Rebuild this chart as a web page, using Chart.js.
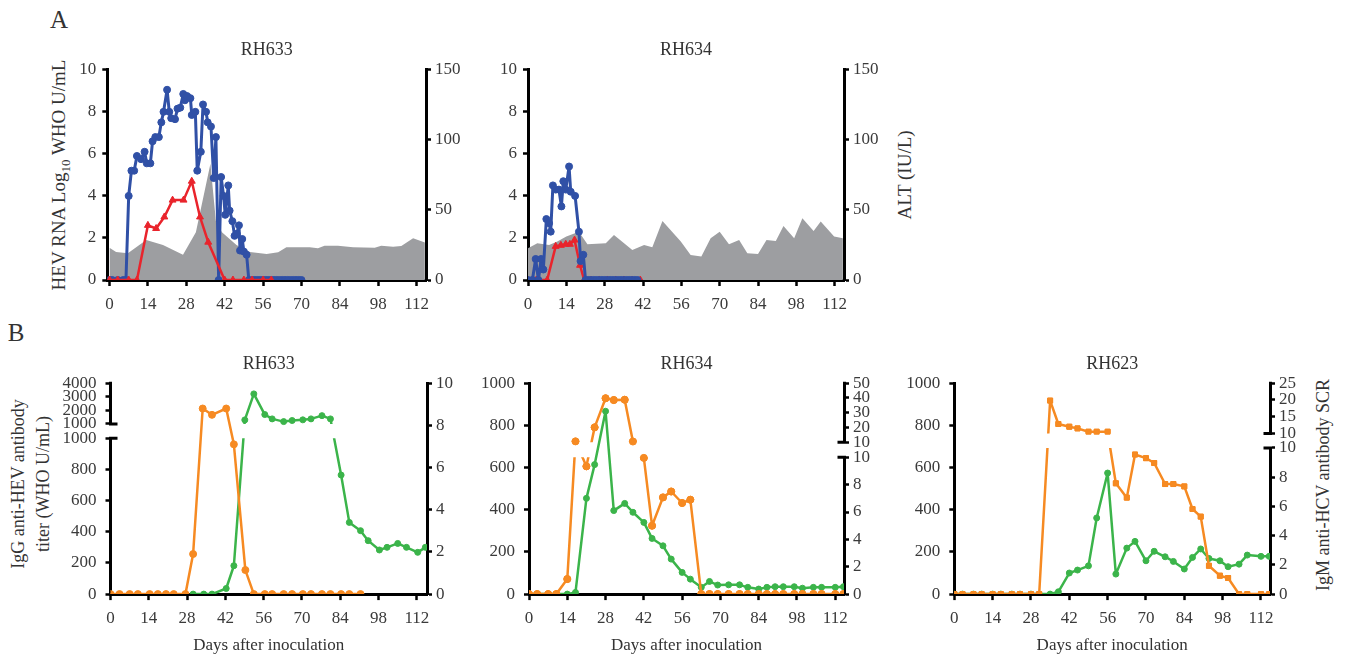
<!DOCTYPE html>
<html>
<head>
<meta charset="utf-8">
<script src="https://cdn.jsdelivr.net/npm/chart.js@4.4.1/dist/chart.umd.min.js"></script>
<style>
  body { margin: 0; width: 1345px; height: 658px; background: #fff; position: relative; overflow: hidden;
         font-family: "Liberation Serif", "DejaVu Serif", serif; color: #333; }
  canvas { position: absolute; }
  .lbl { position: absolute; transform: translate(-50%, -50%); white-space: nowrap; }
  .vt { position: absolute; transform: translate(-50%, -50%) rotate(-90deg); white-space: nowrap; text-align: center; }
</style>
</head>
<body>
<div class="lbl" style="left:59px;top:20px;font-size:25px">A</div>
<div class="lbl" style="left:16px;top:333px;font-size:25px">B</div>
<div class="vt" style="left:61px;top:175px;font-size:19px">HEV RNA Log<sub style="font-size:13px">10</sub> WHO U/mL</div>
<div class="vt" style="left:905px;top:175px;font-size:19px">ALT (IU/L)</div>
<div class="vt" style="left:31px;top:484px;font-size:18px;line-height:25px">IgG anti-HEV antibody<br>titer (WHO U/mL)</div>
<div class="vt" style="left:1323px;top:485px;font-size:18px">IgM anti-HCV antibody SCR</div>

<canvas id="a633"></canvas>
<canvas id="a634"></canvas>
<canvas id="b633"></canvas>
<canvas id="b634"></canvas>
<canvas id="b623"></canvas>

<script>
// ---------- ticks ----------
const dayTicks = [0, 14, 28, 42, 56, 70, 84, 98, 112];
const rnaTicks = [0, 2, 4, 6, 8, 10];
const altTicks = [0, 50, 100, 150];
const iggTicks = [0, 200, 400, 600, 800, 1000];
const iggHighTicks = [1000, 2000, 3000, 4000];
const igmTicks = [0, 2, 4, 6, 8, 10];
const igm634HighTicks = [10, 20, 30, 40, 50];
const igm623HighTicks = [10, 15, 20, 25];

// ---------- A: RH633 ----------
const rh633SerumDays = [0, 1, 3, 5, 6, 7, 8, 9, 10, 11.5, 12.8, 13.6, 14.9, 15.7, 16.7, 18, 18.9, 19.7, 21, 21.8,
  22.5, 23.9, 24.8, 25.8, 26.9, 27.5, 28.3, 29.5, 30, 31.3, 32, 33.3, 34.1, 35.2, 35.8, 37, 38, 38.8, 39.8, 40.7,
  41.6, 42.2, 43.3, 43.8, 44.8, 45.6, 46.4, 47.2, 47.6, 48.4, 49, 50, 50.8, 52, 53, 54, 55, 56, 57, 58, 59, 60,
  61, 62, 63, 64, 65, 66, 67, 68, 69, 70];
const rh633Serum = [0, 0, 0, 0, 0, 4.0, 5.2, 5.2, 5.9, 5.75, 6.1, 5.55, 5.55, 6.6, 6.8, 6.8, 7.5, 8.0, 9.05, 8.0,
  7.7, 7.65, 8.15, 8.2, 8.85, 8.55, 8.75, 8.65, 7.85, 8.0, 5.2, 6.1, 8.35, 8.0, 7.5, 7.3, 4.85, 6.8, 0, 4.9,
  4.0, 3.1, 4.5, 3.3, 2.8, 2.1, 2.2, 2.6, 1.4, 1.95, 1.35, 1.2, 0, 0, 0, 0, 0, 0, 0, 0, 0, 0,
  0, 0, 0, 0, 0, 0, 0, 0, 0, 0];
const rh633FecesDays = [0, 3, 7, 10, 14, 17, 20, 23, 27, 30, 33, 36, 42, 45, 49, 52, 56, 59];
const rh633Feces = [0, 0, 0, 0, 2.6, 2.45, 3.0, 3.8, 3.8, 4.7, 3.0, 1.8, 0, 0, 0, 0, 0, 0];
const rh633AltDays = [0, 2.4, 6.7, 13.4, 19.5, 26.8, 31.5, 36.8, 38.8, 41, 46.3, 51.2, 57.3, 61.5, 64.5, 73, 76,
  78.4, 83.3, 88.8, 96.7, 99.1, 103.4, 106.4, 110.7, 115];
const rh633Alt = [23, 20, 19, 28.5, 25, 18, 34, 83, 42, 34, 25, 20, 18.6, 19.8, 23.3, 23.3, 22.6,
  24.5, 24.5, 23.3, 23, 24.5, 23.8, 24.3, 29.8, 26.7];

// ---------- A: RH634 ----------
const rh634SerumDays = [0, 1.6, 2.8, 3.8, 4.8, 5.6, 6.7, 7.7, 8.3, 9.1, 10.1, 11.3, 12.2, 12.9, 13.8, 15, 15.6,
  17.2, 18.6, 19.2, 20.2, 21, 22, 23, 24, 25, 26, 27, 28, 29, 30, 31, 32, 33, 34, 35, 36, 37, 38, 39, 40];
const rh634Serum = [0, 0, 1.0, 0, 1.0, 0.5, 2.9, 2.7, 2.3, 4.5, 4.3, 4.3, 3.5, 4.7, 4.3, 5.4, 4.2,
  4.0, 2.3, 0.9, 1.2, 0, 0, 0, 0, 0, 0, 0, 0, 0, 0, 0, 0, 0, 0, 0, 0, 0, 0, 0, 0];
const rh634FecesDays = [0, 3, 7, 10.1, 12, 13.8, 15.3, 17, 19, 20.5, 23, 26, 29, 32, 35, 38, 41];
const rh634Feces = [0, 0, 0, 1.6, 1.65, 1.7, 1.7, 1.9, 0.7, 0, 0, 0, 0, 0, 0, 0, 0];
const rh634AltDays = [0, 3.4, 7.7, 10.7, 14, 18.6, 21.7, 28.4, 31.4, 38.1, 42.4, 45.4, 49.1, 55.8, 59.4, 63.3,
  66.7, 70, 73.4, 77.1, 80.1, 84, 87.1, 90.5, 93.3, 97.2, 100.2, 104.3, 106.9, 111.8, 115];
const rh634Alt = [22.6, 26.2, 25, 27.4, 31, 34.5, 25.5, 26.2, 32.1, 21.4, 25, 23.3, 42.1, 27.4, 17.9, 16.7,
  29.8, 34.5, 25.5, 28.6, 19, 18.6, 28.6, 27.9, 38.6, 29.8, 44, 35, 41.7, 31, 29.8];

// ---------- B: antibodies ----------
const b633IgmDays = [0, 3.3, 7, 10, 14.3, 17.3, 20.3, 23.1, 27.4, 30.2, 33.7, 37.1, 42.3, 45.1, 49.3, 52.4,
  56.4, 59.1, 63.3, 66.4, 70.3, 73.3, 77.3, 80.4, 84.3, 87.3, 91.4];
const b633Igm = [0, 0, 0, 0, 0, 0, 0, 0, 0, 1.9, 8.8, 8.5, 8.8, 7.1, 1.14, 0,
  0, 0, 0, 0, 0, 0, 0, 0, 0, 0, 0];
const b633IggDays = [30.2, 34.1, 37.1, 42.3, 45.1, 49.1, 52.4, 56.4, 59.1, 63.3, 66.4, 70.3, 73.3, 77.3, 80.4,
  84.3, 87.3, 91.4, 94.2, 98.3, 101.1, 105, 108.2, 112.3, 115.1];
const b633Igg = [0, 0, 0, 36, 182, 1295, 3211, 1690, 1370, 1170, 1250, 1300, 1370, 1610, 1370,
  764, 460, 407, 343, 283, 300, 325, 300, 268, 300];

const b634Days = [0, 3, 7, 10, 14, 17, 21, 24, 28, 31, 35, 38, 42, 45, 49, 52, 56, 59, 63, 66, 69, 73, 77, 80,
  84, 87, 90, 93, 97, 100, 104, 107, 112, 115];
const b634Igm = [0, 0, 0, 0, 1.1, 10.6, 9.34, 20.1, 39.8, 38.6, 38.8, 10.5, 9.96, 5.0, 7.07, 7.5, 6.66, 6.9,
  0, 0, 0, 0, 0, 0, 0, 0, 0, 0, 0, 0, 0, 0, 0, 0];
const b634Igg = [0, 0, 0, 0, 0, 8, 454, 614, 867, 396, 430, 388, 340, 264, 229, 166, 103, 71,
  32, 60, 43, 44, 44, 32, 24, 32, 35, 35, 35, 28, 32, 32, 32, 35];

const b623Days = [0, 3, 7, 10, 14, 17, 21, 24, 28, 31, 35, 38, 42, 45, 49, 52, 56, 59, 63, 66, 70, 73, 77, 80,
  84, 87, 90, 93, 97, 100, 104, 107, 112, 115];
const b623Igm = [0, 0, 0, 0, 0, 0, 0, 0, 0, 0, 19.8, 12.8, 12, 11.5, 10.5, 10.5, 10.5, 7.58, 6.6, 9.55,
  9.3, 8.97, 7.53, 7.53, 7.37, 5.82, 5.3, 1.94, 1.26, 1.1, 0, 0, 0, 0];
const b623Igg = [0, 0, 0, 0, 0, 0, 0, 0, 0, 0, 0, 11, 100, 114, 134, 361, 574, 95, 218, 250,
  158, 203, 177, 155, 119, 174, 214, 169, 158, 130, 142, 185, 179, 179];

// ---------- colours ----------
const BLUE = '#3050a6', RED = '#e9242c', GRAY = '#9d9ea1', ORANGE = '#f68a22', GREEN = '#3bb44a';

Chart.defaults.font.family = '"Liberation Serif", "DejaVu Serif", serif';
Chart.defaults.color = '#3a3a3a';

// linear scale with a break: lower part up to brk.at, a gap, then an upper part
class BrokenScale extends Chart.LinearScale {
  decOf(v, upper) {
    const b = this.options.brk;
    if (!upper && v <= b.at) return (v - this.min) / (b.at - this.min) * b.low;
    return b.low + b.gap + (v - b.at) / (this.max - b.at) * (1 - b.low - b.gap);
  }
  getPixelForValue(v) {
    if (v === null || v === undefined || isNaN(v)) return NaN;
    return this.getPixelForDecimal(this.decOf(v, false));
  }
  getValueForPixel(p) {
    const d = this.getDecimalForPixel(p);
    const b = this.options.brk;
    if (d <= b.low) return this.min + d / b.low * (b.at - this.min);
    return b.at + (d - b.low - b.gap) / (1 - b.low - b.gap) * (this.max - b.at);
  }
  getPixelForTick(i) {
    const t = this.ticks[i];
    return this.getPixelForDecimal(this.decOf(t.value, t.upper));
  }
  drawBorder() {
    const {ctx, options} = this;
    const b = options.brk;
    const w = options.border.width;
    const x = this._borderValue;
    const yLow = this.getPixelForDecimal(b.low);
    const yHigh = this.getPixelForDecimal(b.low + b.gap);
    const dir = this.position === 'left' ? 1 : -1;
    ctx.save();
    ctx.lineWidth = w;
    ctx.strokeStyle = options.border.color;
    ctx.beginPath();
    ctx.moveTo(x, this.bottom + w / 2);
    ctx.lineTo(x, yLow);
    ctx.moveTo(x, yHigh);
    ctx.lineTo(x, this.top - w / 2);
    ctx.moveTo(x - dir * w / 2, yLow);
    ctx.lineTo(x + dir * 7, yLow);
    ctx.moveTo(x - dir * w / 2, yHigh);
    ctx.lineTo(x + dir * 7, yHigh);
    ctx.stroke();
    ctx.restore();
  }
}
BrokenScale.id = 'broken';
BrokenScale.defaults = {};

// lines on a broken axis are hidden inside the gap
const breakClip = {
  id: 'breakClip',
  beforeDatasetDraw(chart, args) {
    const ds = chart.data.datasets[args.index];
    if (!ds.breakLine) return;
    const s = chart.scales[ds.yAxisID];
    const b = s.options.brk;
    const yLow = s.getPixelForDecimal(b.low);
    const yHigh = s.getPixelForDecimal(b.low + b.gap);
    const ctx = chart.ctx;
    ctx.save();
    ctx.beginPath();
    ctx.rect(0, 0, chart.width, yHigh);
    ctx.rect(0, yLow, chart.width, chart.height - yLow);
    ctx.clip();
  },
  afterDatasetDraw(chart, args) {
    if (chart.data.datasets[args.index].breakLine) chart.ctx.restore();
  }
};
Chart.register(BrokenScale, breakClip);

const pts = (xs, ys) => xs.map((x, i) => ({x, y: ys[i]}));

function line(xs, ys, axis, color, opts) {
  return Object.assign({
    data: pts(xs, ys), yAxisID: axis, borderColor: color, backgroundColor: color,
    pointBackgroundColor: color, pointBorderColor: color, pointBorderWidth: 1,
    borderWidth: 2.5, pointRadius: 3, tension: 0, fill: false,
    borderJoinStyle: 'round', borderCapStyle: 'round'
  }, opts);
}
// a series on a broken axis: clipped line + unclipped points
function brokenLine(xs, ys, axis, color, order, opts) {
  return [
    line(xs, ys, axis, color, Object.assign({pointRadius: 0, breakLine: true, order: order + 1}, opts)),
    line(xs, ys, axis, color, Object.assign({showLine: false, order: order}, opts))
  ];
}

const tickGrid = {display: true, drawOnChartArea: false, drawTicks: true, tickLength: 5, tickWidth: 2.5, tickColor: '#000'};
const axisLine = {display: true, width: 3, color: '#000'};

function yAxis(pos, ticks, width, pad) {
  return {
    type: 'linear', position: pos, min: ticks[0], max: ticks[ticks.length - 1], bounds: 'data',
    afterBuildTicks: s => { s.ticks = ticks.map(v => ({value: v})); },
    afterFit: s => { s.width = width; },
    grid: tickGrid, border: axisLine,
    ticks: {font: {size: 17}, padding: pad, autoSkip: false, callback: v => String(v)}
  };
}
function brokenAxis(pos, low, high, brk, width, pad) {
  return {
    type: 'broken', position: pos, min: low[0], max: high[high.length - 1], bounds: 'data', brk,
    afterBuildTicks: s => {
      s.ticks = low.map(v => ({value: v})).concat(high.map(v => ({value: v, upper: true})));
    },
    afterFit: s => { s.width = width; },
    grid: tickGrid, border: axisLine,
    ticks: {font: {size: 17}, padding: pad, autoSkip: false, callback: v => String(v)}
  };
}
function xAxis(min, max, height, withTitle) {
  return {
    type: 'linear', min, max, bounds: 'data',
    afterBuildTicks: s => { s.ticks = dayTicks.map(v => ({value: v})); },
    afterFit: s => { s.height = height; },
    grid: Object.assign({}, tickGrid, {tickLength: 6}), border: axisLine,
    ticks: {font: {size: 17}, padding: 8, maxRotation: 0, autoSkip: false, callback: v => String(v)},
    title: {display: withTitle, text: 'Days after inoculation', font: {size: 17}, color: '#333', padding: 0}
  };
}

function makeChart(id, box, title, titleGap, datasets, scales) {
  const cv = document.getElementById(id);
  cv.width = Math.round(box.w);
  cv.height = Math.round(box.h);
  cv.style.left = box.x + 'px';
  cv.style.top = box.y + 'px';
  return new Chart(cv, {
    type: 'line',
    data: {datasets},
    options: {
      responsive: false, animation: false, events: [], devicePixelRatio: 1,
      layout: {padding: 0},
      plugins: {
        legend: {display: false}, tooltip: {enabled: false},
        title: {display: true, text: title, fullSize: false, color: '#333',
                font: {size: 18, weight: 'normal'}, padding: {top: 0, bottom: titleGap}}
      },
      scales
    }
  });
}

// ---------- panel A ----------
makeChart('a633', {x: 50, y: 39.2, w: 421, h: 280.8}, 'RH633', 9.2, [
  line(rh633FecesDays, rh633Feces, 'y', RED, {pointStyle: 'triangle', pointRadius: 4, order: 0}),
  line(rh633SerumDays, rh633Serum, 'y', BLUE, {borderWidth: 3, pointRadius: 3.5, order: 1}),
  line(rh633AltDays, rh633Alt, 'yR', GRAY, {borderWidth: 0, pointRadius: 0, fill: 'origin', order: 5})
], {
  x: xAxis(-0.8, 115.4, 40, false),
  y: yAxis('left', rnaTicks, 57.3, 6),
  yR: yAxis('right', altTicks, 45, 4)
});

makeChart('a634', {x: 470, y: 39.2, w: 419.3, h: 280.8}, 'RH634', 9.2, [
  line(rh634FecesDays, rh634Feces, 'y', RED, {pointStyle: 'triangle', pointRadius: 4, order: 1}),
  line(rh634SerumDays, rh634Serum, 'y', BLUE, {borderWidth: 3, pointRadius: 3.5, order: 0}),
  line(rh634AltDays, rh634Alt, 'yR', GRAY, {borderWidth: 0, pointRadius: 0, fill: 'origin', order: 5})
], {
  x: xAxis(0, 115.4, 40, false),
  y: yAxis('left', rnaTicks, 58, 6),
  yR: yAxis('right', altTicks, 45, 4)
});

// ---------- panel B ----------
makeChart('b633', {x: 55, y: 352.5, w: 411.7, h: 302.7}, 'RH633', 8.6, [
  line(b633IgmDays, b633Igm, 'yR', ORANGE, {pointRadius: 3.5, order: 0}),
  ...brokenLine(b633IggDays, b633Igg, 'y', GREEN, 2, {})
], {
  x: xAxis(0, 115.7, 61.9, true),
  y: brokenAxis('left', iggTicks, iggHighTicks, {at: 1000, low: 0.739, gap: 0.068}, 55.5, 9),
  yR: yAxis('right', igmTicks, 40, 4)
});

makeChart('b634', {x: 470, y: 352.5, w: 419.3, h: 302.7}, 'RH634', 8.6, [
  ...brokenLine(b634Days, b634Igm, 'yR', ORANGE, 0, {pointRadius: 3.5}),
  line(b634Days, b634Igg, 'y', GREEN, {order: 3})
], {
  x: xAxis(0, 115.2, 61.9, true),
  y: yAxis('left', iggTicks, 59, 9),
  yR: brokenAxis('right', igmTicks, igm634HighTicks, {at: 10, low: 0.6486, gap: 0.0712}, 45, 4)
});

makeChart('b623', {x: 895, y: 352.5, w: 420, h: 302.7}, 'RH623', 8.6, [
  ...brokenLine(b623Days, b623Igm, 'yR', ORANGE, 0, {pointStyle: 'rect', pointRadius: 3.5}),
  line(b623Days, b623Igg, 'y', GREEN, {order: 3})
], {
  x: xAxis(0, 115.3, 61.9, true),
  y: yAxis('left', iggTicks, 59.3, 9),
  yR: brokenAxis('right', igmTicks, igm623HighTicks, {at: 10, low: 0.693, gap: 0.069}, 45, 4)
});
</script>
</body>
</html>
